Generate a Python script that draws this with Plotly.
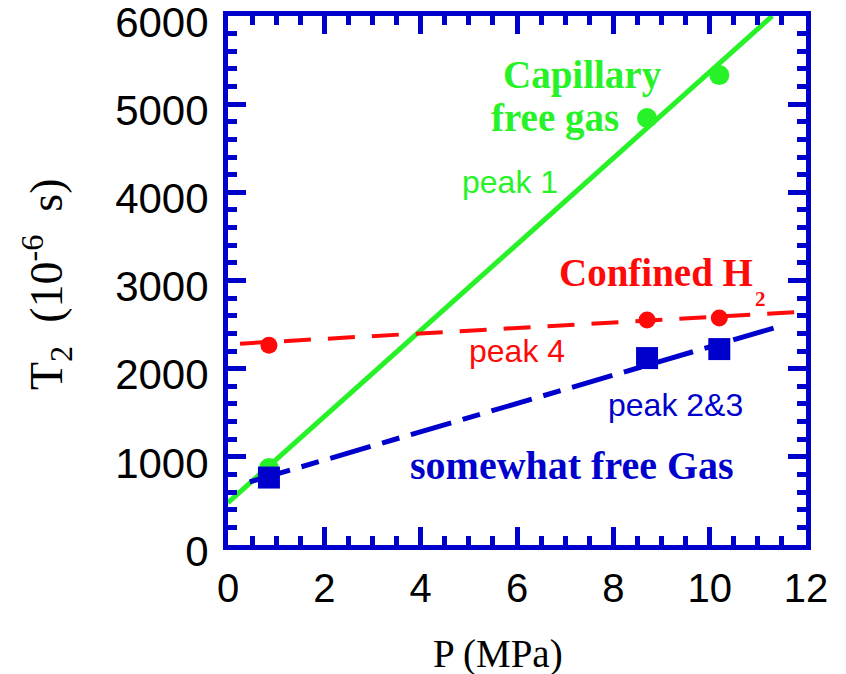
import plotly.graph_objects as go

# ---- data ----
p_peak1 = [0.85, 8.7, 10.2]
t2_peak1 = [873, 4843, 5330]
p_peak4 = [0.85, 8.7, 10.2]
t2_peak4 = [2265, 2551, 2574]
p_peak23 = [0.85, 8.7, 10.2]
t2_peak23 = [765, 2120, 2222]

fit1_p = [0.0, 11.3]
fit1_t2 = [480, 6000]
fit4_p = [0.25, 12.0]
fit4_t2 = [2284, 2648]
fit23_p = [0.45, 11.45]
fit23_t2 = [715, 2480]

x_ticks = [0, 2, 4, 6, 8, 10, 12]
y_ticks = [0, 1000, 2000, 3000, 4000, 5000, 6000]

GREEN = "#27F227"
RED = "#FF0A0A"
BLUE = "#0000CC"

fig = go.Figure()
fig.add_trace(go.Scatter(x=fit1_p, y=fit1_t2, mode="lines",
                         line=dict(color=GREEN, width=5), showlegend=False))
fig.add_trace(go.Scatter(x=p_peak1, y=t2_peak1, mode="markers",
                         marker=dict(color=GREEN, size=20, symbol="circle"), showlegend=False))
fig.add_trace(go.Scatter(x=fit4_p, y=fit4_t2, mode="lines",
                         line=dict(color=RED, width=4, dash="27px,17px"), showlegend=False))
fig.add_trace(go.Scatter(x=p_peak4, y=t2_peak4, mode="markers",
                         marker=dict(color=RED, size=17, symbol="circle"), showlegend=False))
fig.add_trace(go.Scatter(x=fit23_p, y=fit23_t2, mode="lines",
                         line=dict(color=BLUE, width=5, dash="42px,12px,18px,12px"), showlegend=False))
fig.add_trace(go.Scatter(x=p_peak23, y=t2_peak23, mode="markers",
                         marker=dict(color=BLUE, size=22, symbol="square"), showlegend=False))

serif_b = dict(family="Liberation Serif", size=39)
sans = dict(family="Liberation Sans", size=32)

annos = [
    dict(x=7.35, y=5331, text="<b>Capillary</b>", font=dict(**serif_b, color=GREEN)),
    dict(x=6.79, y=4843, text="<b>free gas</b>", font=dict(**serif_b, color=GREEN)),
    dict(x=5.85, y=4117, text="peak 1", font=dict(**sans, color=GREEN)),
    dict(x=8.89, y=3096, text="<b>Confined H</b>", font=dict(**serif_b, color=RED)),
    dict(x=11.06, y=2790, text="<b>2</b>", font=dict(family="Liberation Serif", size=21, color=RED)),
    dict(x=6.0, y=2200, text="peak 4", font=dict(**sans, color=RED)),
    dict(x=9.30, y=1588, text="peak 2&3", font=dict(**sans, color=BLUE)),
    dict(x=7.14, y=907, text="<b>somewhat free Gas</b>", font=dict(family="Liberation Serif", size=40, color=BLUE)),
]
for a in annos:
    fig.add_annotation(xref="x", yref="y", showarrow=False, xanchor="center", yanchor="middle", **a)

# axis titles as paper annotations
fig.add_annotation(xref="paper", yref="paper", x=(498 - 228) / 578, y=(545 - 654) / 529,
                   text="P (MPa)", showarrow=False, xanchor="center", yanchor="middle",
                   font=dict(family="Liberation Serif", size=39, color="black"))
fig.add_annotation(xref="paper", yref="paper", x=(46 - 228) / 578, y=(545 - 284) / 529,
                   text="T<sub>2</sub>&nbsp; (10<sup>-6</sup>&nbsp; s)", showarrow=False, textangle=-90,
                   xanchor="center", yanchor="middle",
                   font=dict(family="Liberation Serif", size=46, color="black"))

axis_common = dict(showline=True, linecolor=BLUE, linewidth=5, mirror="allticks",
                   ticks="inside", tickcolor=BLUE, tickwidth=5, ticklen=18,
                   showgrid=False, zeroline=False, ticklabeloverflow="allow",
                   automargin=False)

fig.update_xaxes(range=[0, 12], tickvals=x_ticks, ticktext=[str(v) for v in x_ticks],
                 minor=dict(dtick=0.5, ticks="inside", ticklen=9, tickwidth=5, tickcolor=BLUE),
                 ticklabelstandoff=4,
                 tickfont=dict(family="Liberation Sans", size=40, color="black"), **axis_common)
fig.update_yaxes(range=[0, 6000], tickvals=y_ticks, ticktext=[str(v) for v in y_ticks],
                 minor=dict(dtick=200, ticks="inside", ticklen=9, tickwidth=5, tickcolor=BLUE),
                 ticklabelstandoff=6, ticklabelshift=6,
                 tickfont=dict(family="Liberation Sans", size=42, color="black"), **axis_common)

fig.update_layout(width=846, height=674, margin=dict(l=228, r=40, t=16, b=129, autoexpand=False),
                  plot_bgcolor="white", paper_bgcolor="white")

fig.write_html("out.html")
